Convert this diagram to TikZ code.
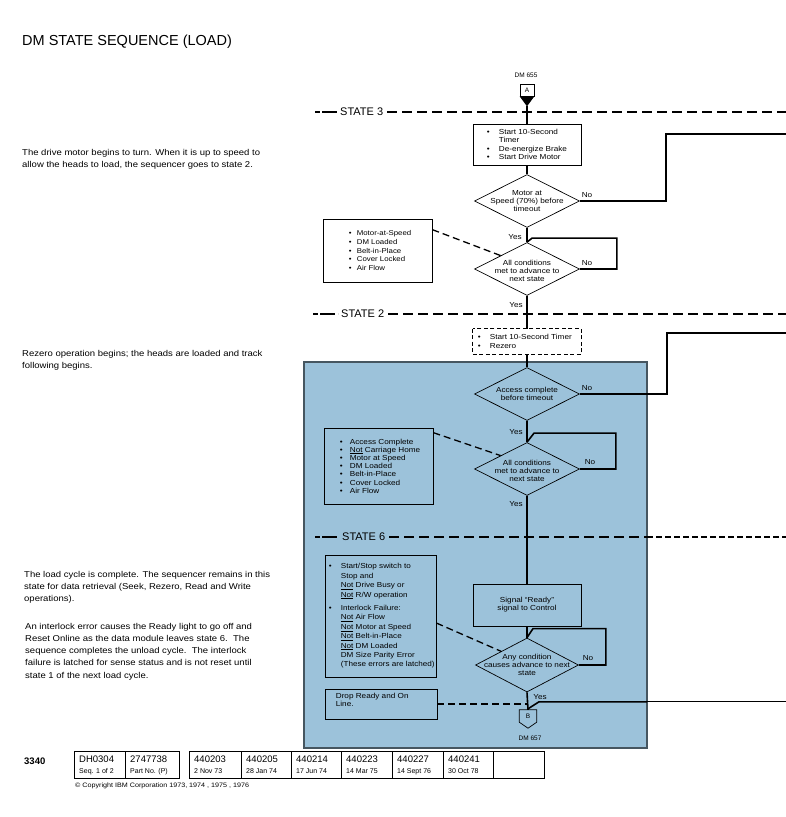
\documentclass[tikz,border=0pt]{standalone}
\usepackage{fontspec}
\setmainfont{Liberation Sans}
\newfontfamily\wide{Liberation Sans}[FakeStretch=1.12,Ligatures=TeX]
\usetikzlibrary{shapes.geometric,calc}

\definecolor{panel}{RGB}{156,194,218}
\definecolor{panelrim}{RGB}{70,86,96}

\newcommand{\itm}[1][11pt]{\makebox[#1][l]{\textbullet}}
\newcommand{\ind}[1][11pt]{\hspace*{#1}}

\tikzset{
  flow/.style={line width=1.6pt},
  stateline/.style={line width=1.6pt, dash pattern=on 10pt off 5pt},
  tie/.style={line width=1.3pt, dash pattern=on 7pt off 4pt},
  stepbox/.style={draw, line width=0.7pt, minimum width=108pt, inner sep=0pt},
  dia/.style={draw, diamond, line width=0.7pt, inner sep=0pt, minimum width=105pt, minimum height=53pt},
  condbox/.style={draw, line width=0.7pt, inner sep=0pt},
  fl/.style={font=\wide\fontsize{7.3}{8.2}\selectfont, align=center, inner sep=0pt},
  lst/.style={font=\wide\fontsize{7.3}{8.4}\selectfont, align=left, inner sep=0pt, anchor=west},
  note/.style={font=\wide\fontsize{8.5}{12.2}\selectfont, align=left, inner sep=0pt, anchor=north west},
  yn/.style={font=\wide\fontsize{7.3}{8}\selectfont, inner sep=0pt},
  statelbl/.style={font=\fontsize{11}{12}\selectfont, inner sep=0pt, anchor=west},
  celltop/.style={font=\fontsize{9.5}{10}\selectfont, inner sep=0pt, anchor=west},
  cellbot/.style={font=\fontsize{7}{8}\selectfont, inner sep=0pt, anchor=west},
}

\begin{document}
\begin{tikzpicture}[x=1pt,y=-1pt]
  \useasboundingbox (0,0) rectangle (786,817);
  \coordinate (rim) at (786,0);
  \coordinate (panelR) at (647,0);

  % Shaded region (state 2 and 6)
  \fill[panel] (304,362) rectangle (647,748);
  \draw[panelrim,line width=2.5pt] (304,362) rectangle (647,748);

  \node[anchor=west,inner sep=0pt,font=\fontsize{14.5}{16}\selectfont] (title) at (22,42) {DM STATE SEQUENCE (LOAD)};

  % Notes on the left
  \node[note] (note3) at (22,149) {The drive motor begins to turn. When it is up to speed to\\allow the heads to load, the sequencer goes to state 2.};
  \node[note] (note2) at (22,350) {Rezero operation begins; the heads are loaded and track\\following begins.};
  \node[note] (note6) at (24,571) {The load cycle is complete. The sequencer remains in this\\state for data retrieval (Seek, Rezero, Read and Write\\operations).};
  \node[note] (noteerr) at (25,623) {An interlock error causes the Ready light to go off and\\Reset Online as the data module leaves state 6.\ \ The\\sequence completes the unload cycle.\ \ The interlock\\failure is latched for sense status and is not reset until\\state 1 of the next load cycle.};

  % State separators
  \node[statelbl] (st3) at (340,112) {STATE 3};
  \draw[stateline,dash pattern=on 5pt off 2pt on 15pt off 3pt] (315,112) -- ([xshift=-3]st3.west);
  \draw[stateline] ([xshift=4]st3.east) -- (st3.east -| rim);

  \node[statelbl] (st2) at (341,314) {STATE 2};
  \draw[stateline,dash pattern=on 5pt off 2pt on 15pt off 3pt] (313,314) -- ([xshift=-3]st2.west);
  \draw[stateline] ([xshift=4]st2.east) -- (st2.east -| rim);

  \node[statelbl] (st6) at (342,537) {STATE 6};
  \draw[stateline,dash pattern=on 5pt off 2pt on 15pt off 3pt] (315,537) -- ([xshift=-3]st6.west);
  \draw[stateline] ([xshift=4]st6.east) -- (st6.east -| panelR);
  \draw[line width=1.2pt,dash pattern=on 6pt off 3pt] (st6.east -| panelR) -- (st6.east -| rim);

  % Entry connector A
  \node[font=\fontsize{6.5}{7}\selectfont,inner sep=0pt] (dm655) at (526,75) {DM 655};
  \node[draw,line width=0.7pt,minimum width=14pt,minimum height=12pt,inner sep=0pt,font=\fontsize{6.5}{7}\selectfont] (conA) at (527,90) {A};
  \coordinate (Atip) at ([yshift=-10]conA.south);
  \fill (conA.south west) -- (conA.south east) -- (Atip) -- cycle;

  % State 3
  \node[stepbox,minimum height=41pt] (b1) at (527,144.5) {};
  \node[lst] (b1t) at ([xshift=14]b1.west) {\itm[12pt]Start 10-Second\\\ind[12pt]Timer\\\itm[12pt]De-energize Brake\\\itm[12pt]Start Drive Motor};
  \node[dia] (d1) at (527,201) {};
  \node[fl] (d1t) at (d1) {Motor at\\Speed (70\%) before\\timeout};
  \node[dia] (d2) at (527,269) {};
  \node[fl] (d2t) at ([yshift=-2]d2.center) {All conditions\\met to advance to\\next state};
  \node[condbox,minimum width=109pt,minimum height=63pt] (c1) at (377.5,250.5) {};
  \node[lst,font=\wide\fontsize{7}{8.7}\selectfont] (c1t) at ([xshift=26]c1.west) {\itm[8pt]Motor-at-Speed\\\itm[8pt]DM Loaded\\\itm[8pt]Belt-in-Place\\\itm[8pt]Cover Locked\\\itm[8pt]Air Flow};

  % State 2
  \node[stepbox,minimum height=25pt,draw=none] (b2) at (527,341.5) {};
  \draw[line width=0.8pt,dash pattern=on 4pt off 2.5pt] (b2.north west) rectangle (b2.south east);
  \node[lst] (b2t) at ([xshift=5]b2.west) {\itm[12pt]Start 10-Second Timer\\\itm[12pt]Rezero};
  \node[dia] (d3) at (527,394) {};
  \node[fl] (d3t) at (d3) {Access complete\\before timeout};
  \node[dia] (d4) at (527,469) {};
  \node[fl] (d4t) at ([yshift=-2]d4.center) {All conditions\\met to advance to\\next state};
  \node[condbox,minimum width=109pt,minimum height=76pt] (c2) at (378.5,466) {};
  \node[lst,font=\wide\fontsize{7.3}{8.2}\selectfont] (c2t) at ([xshift=16]c2.west) {\itm[10pt]Access Complete\\\itm[10pt]\underline{Not} Carriage Home\\\itm[10pt]Motor at Speed\\\itm[10pt]DM Loaded\\\itm[10pt]Belt-in-Place\\\itm[10pt]Cover Locked\\\itm[10pt]Air Flow};

  % State 6
  \node[stepbox,minimum height=42pt] (b3) at (527,605) {};
  \node[fl] (b3t) at (b3) {Signal “Ready”\\signal to Control};
  \node[dia,minimum width=103pt,minimum height=54pt] (d5) at (527,665) {};
  \node[fl] (d5t) at (d5) {Any condition\\causes advance to next\\state};
  \node[condbox,minimum width=111pt,minimum height=122pt] (c3) at (380.5,616) {};
  \node[lst,font=\wide\fontsize{7.25}{9.4}\selectfont] (c3t) at ([xshift=4]c3.west) {\itm[12pt]Start/Stop switch to\\\ind[12pt]Stop and\\\ind[12pt]\underline{Not} Drive Busy or\\\ind[12pt]\underline{Not} R/W operation\\[4pt]\itm[12pt]Interlock Failure:\\\ind[12pt]\underline{Not} Air Flow\\\ind[12pt]\underline{Not} Motor at Speed\\\ind[12pt]\underline{Not} Belt-in-Place\\\ind[12pt]\underline{Not} DM Loaded\\\ind[12pt]DM Size Parity Error\\\ind[12pt](These errors are latched)};
  \node[condbox,minimum width=112pt,minimum height=30pt] (c4) at (381,704) {};
  \node[lst,anchor=north west,font=\wide\fontsize{7.3}{8}\selectfont] (c4t) at ([xshift=11,yshift=-4]c4.north west) {Drop Ready and On\\Line.};

  % Exit connector B
  \node[inner sep=0pt,minimum width=17pt,minimum height=12pt,font=\fontsize{6.5}{7}\selectfont] (conB) at (528,716) {B};
  \draw[line width=0.7pt] (conB.south west) -- (conB.north west) -- (conB.north east) -- (conB.south east) -- ([yshift=-6]conB.south) -- cycle;
  \node[font=\fontsize{6.5}{7}\selectfont,inner sep=0pt] (dm657) at (530,738) {DM 657};

  % Main flow
  \draw[flow] (Atip) -- (b1.north);
  \draw[flow] (b1.south) -- (d1.north);
  \draw[flow] (d1.south) -- (d2.north);
  \draw[flow] (d2.south) -- (b2.north);
  \draw[flow] (b2.south) -- (d3.north);
  \draw[flow] (d3.south) -- (d4.north);
  \draw[flow] (d4.south) -- (b3.north);
  \draw[flow] (b3.south) -- (d5.north);
  \draw[flow] (d5.south) -- (conB.north);

  % No branches
  \draw[flow] (d1.east) -- (666,201) -- (666,134) -- (rim |- 0,134);
  \draw[flow] (d3.east) -- (667,394) -- (667,333) -- (rim |- 0,333);
  \draw[flow] (d2.east) -- ++(37,0) |- ([xshift=5,yshift=4]d2.north) -- (d2.north);
  \draw[flow] (d4.east) -- ++(36,0) |- ([xshift=7,yshift=9]d4.north) -- (d4.north);
  \draw[flow] (d5.east) -- ++(27,0) |- ([xshift=6,yshift=9]d5.north) -- (d5.north);

  % Exit to unload
  \path (conB.north) ++(11,-8) coordinate (exitB);
  \draw[flow] ([yshift=1]conB.north) -- (exitB) -- (exitB -| panelR);
  \draw[line width=1.2pt] (exitB -| panelR) -- (exitB -| rim);

  % Condition ties
  \draw[tie] ([yshift=-11]c1.north east) -- ($(d2.west)!0.5!(d2.north)$);
  \draw[tie] ([yshift=-5]c2.north east) -- ($(d4.west)!0.5!(d4.north)$);
  \draw[tie] ([yshift=-7]c3.east) -- ($(d5.west)!0.5!(d5.north)$);
  \draw[tie] (c4.east) -- (c4.east -| d5.south);

  % Yes / No labels
  \node[yn] (y1) at (515,237) {Yes};
  \node[yn] (y2) at (516,305) {Yes};
  \node[yn] (y3) at (516,432) {Yes};
  \node[yn] (y4) at (516,504) {Yes};
  \node[yn] (y5) at (540,697) {Yes};
  \node[yn] (n1) at (587,195) {No};
  \node[yn] (n2) at (587,263) {No};
  \node[yn] (n3) at (587,388) {No};
  \node[yn] (n4) at (590,462) {No};
  \node[yn] (n5) at (588,658) {No};

  % Part number block
  \node[celltop,font=\bfseries\fontsize{9.5}{10}\selectfont] (model) at (24,761) {3340};
  \foreach \xa/\xb/\cellup/\celldn [count=\i] in {74/125/DH0304/Seq. 1 of 2, 125/179/2747738/Part No. (P), 189/241/440203/2 Nov 73, 241/291/440205/28 Jan 74, 291/341/440214/17 Jun 74, 341/392/440223/14 Mar 75, 392/443/440227/14 Sept 76, 443/493/440241/30 Oct 78, 493/544//}{
    \draw[line width=0.6pt] (\xa,751) rectangle (\xb,778);
    \node[celltop] (up\i) at (\xa+5,759) {\cellup};
    \node[cellbot] (dn\i) at (\xa+5,771.5) {\celldn};
  }
  \node[anchor=west,inner sep=0pt,font=\wide\fontsize{6.4}{7}\selectfont] (copy) at (75,786) {\textcopyright\ Copyright IBM Corporation 1973, 1974 , 1975 , 1976};
\end{tikzpicture}
\end{document}
